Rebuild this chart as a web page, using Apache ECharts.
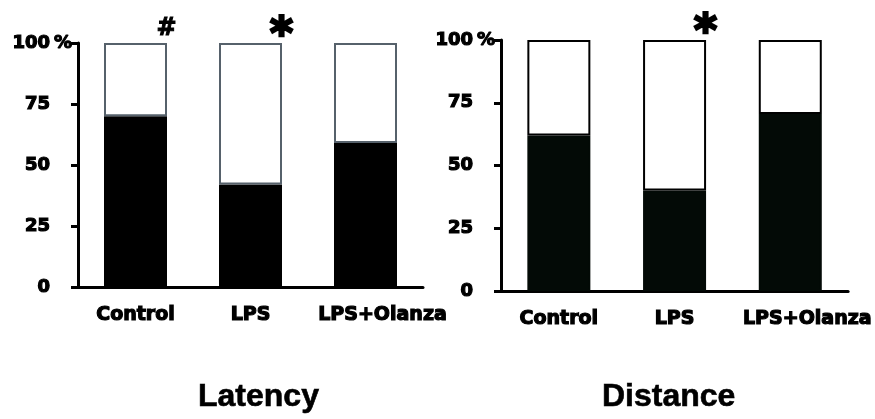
<!DOCTYPE html>
<html>
<head>
<meta charset="utf-8">
<script src="https://cdn.jsdelivr.net/npm/echarts@6/dist/echarts.min.js"></script>
<style>
  html, body { margin: 0; padding: 0; background: #fff; }
  #chart { width: 875px; height: 419px; }
</style>
</head>
<body>
<div id="chart"></div>
<script>
// ---- data ----
const categories = ['Control', 'LPS', 'LPS+Olanza'];
const latencyBlack = [70, 42, 59];
const distanceBlack = [62, 40, 70.5];
const latencyMarks = ['#', '*', ''];
const distanceMarks = ['', '*', ''];
const yTickValues = [0, 25, 50, 75, 100];
const panelTitles = ['Latency', 'Distance'];

// ---- build ----
const chart = echarts.init(document.getElementById('chart'));
const labelFont = 'DejaVu Sans';
const heavy = { textBorderColor: '#000', textBorderWidth: 1.2 };

const panels = [
  { black: latencyBlack, marks: latencyMarks, grid: { left: 78, top: 43, width: 345, height: 244 },
    fill: '#000000', border: '#56616b', title: { left: 198, top: 381 } },
  { black: distanceBlack, marks: distanceMarks, grid: { left: 501, top: 40, width: 348, height: 251 },
    fill: '#030a06', border: '#000000', title: { left: 602, top: 381 } }
];

const grids = [], xAxes = [], yAxes = [], series = [], titles = [];
panels.forEach((p, i) => {
  grids.push(Object.assign({ containLabel: false }, p.grid));
  xAxes.push({
    type: 'category', gridIndex: i, data: categories.map((c, k) => (
      k === 2 ? { value: c, textStyle: { padding: [0, 0, 0, 34] } } : c)),
    axisLine: { lineStyle: { color: '#000', width: 3 } },
    axisTick: { show: false },
    axisLabel: Object.assign({ color: '#000', fontFamily: labelFont, fontWeight: 'bold', fontSize: 19, margin: 19, interval: 0 }, heavy)
  });
  yAxes.push({
    type: 'value', gridIndex: i, min: yTickValues[0], max: yTickValues[yTickValues.length - 1],
    interval: yTickValues[1] - yTickValues[0],
    axisLine: { show: true, lineStyle: { color: '#000', width: 3 } },
    axisTick: { show: true, length: 7, lineStyle: { color: '#000', width: 3 } },
    splitLine: { show: false },
    axisLabel: Object.assign({ color: '#000', fontFamily: labelFont, fontWeight: 'bold', fontSize: 18, margin: 28 }, heavy),
    name: '%', nameLocation: 'end', nameGap: 0, nameMoveOverlap: false,
    nameTextStyle: Object.assign({ color: '#000', fontFamily: labelFont, fontWeight: 'bold', fontSize: 18,
      align: 'right', verticalAlign: 'middle', padding: [0, 6, 0, 0] }, heavy)
  });
  series.push({
    type: 'bar', xAxisIndex: i, yAxisIndex: i, stack: 's' + i, barWidth: 63,
    itemStyle: { color: p.fill, borderColor: p.fill, borderWidth: 2 },
    data: p.black
  });
  series.push({
    type: 'bar', xAxisIndex: i, yAxisIndex: i, stack: 's' + i, barWidth: 63,
    itemStyle: { color: '#ffffff', borderColor: p.border, borderWidth: 2 },
    label: { show: false },
    data: p.black.map((v, k) => ({
      value: 100 - v,
      label: {
        show: p.marks[k] !== '', formatter: p.marks[k], position: 'top', color: '#000',
        fontFamily: labelFont, fontWeight: 'bold',
        textBorderColor: '#000', textBorderWidth: p.marks[k] === '*' ? 2.5 : 1,
        fontSize: p.marks[k] === '*' ? 44 : 24,
        distance: p.marks[k] === '*' ? -16 : 2,
        offset: [31, 0]
      }
    }))
  });
  titles.push({
    text: panelTitles[i], left: p.title.left, top: p.title.top, padding: 0,
    textStyle: { color: '#000', fontFamily: 'Liberation Sans', fontWeight: 'bold', fontSize: 32,
      textBorderColor: '#000', textBorderWidth: 0.6 }
  });
});

chart.setOption({
  animation: false,
  backgroundColor: '#ffffff',
  title: titles,
  grid: grids,
  xAxis: xAxes,
  yAxis: yAxes,
  series: series
});
</script>
</body>
</html>
